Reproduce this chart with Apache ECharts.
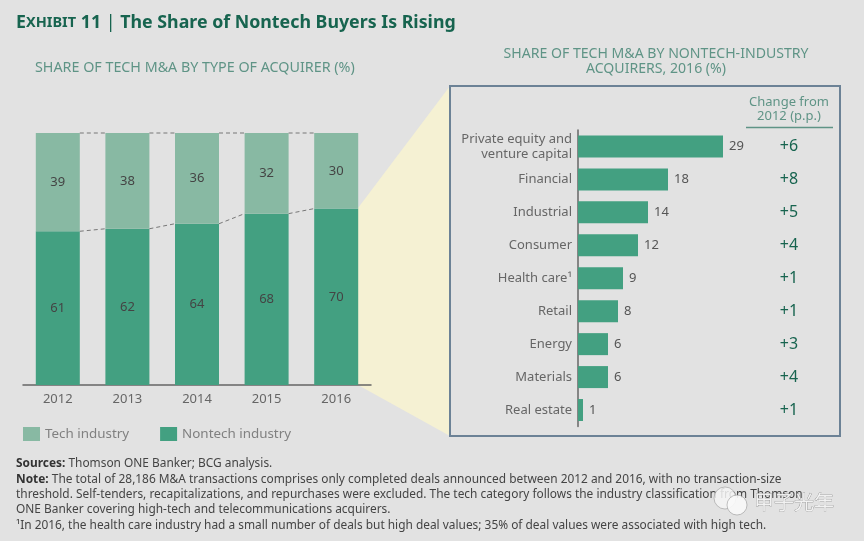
<!DOCTYPE html>
<html lang="en">
<head>
<meta charset="UTF-8">
<title>Exhibit 11</title>
<script src="https://cdn.jsdelivr.net/npm/echarts@6/dist/echarts.min.js"></script>
<style>
  html, body { margin: 0; padding: 0; background: #e2e2e2; }
  #main { width: 864px; height: 541px; }
</style>
</head>
<body>
<div id="main"></div>
<script>
var years = ['2012', '2013', '2014', '2015', '2016'];
var techShare = [39, 38, 36, 32, 30];
var nontechShare = [61, 62, 64, 68, 70];

var industries = ['Private equity and\nventure capital', 'Financial', 'Industrial', 'Consumer', 'Health care\u00b9', 'Retail', 'Energy', 'Materials', 'Real estate'];
var industryShare = [29, 18, 14, 12, 9, 8, 6, 6, 1];
var changes = ['+6', '+8', '+5', '+4', '+1', '+1', '+3', '+4', '+1'];

var footLines = [
    '{b|Sources:} Thomson ONE Banker; BCG analysis.',
    '{b|Note:} The total of 28,186 M&A transactions comprises only completed deals announced between 2012 and 2016, with no transaction-size',
    'threshold. Self-tenders, recapitalizations, and repurchases were excluded. The tech category follows the industry classification from Thomson',
    'ONE Banker covering high-tech and telecommunications acquirers.',
    '\u00b9In 2016, the health care industry had a small number of deals but high deal values; 35% of deal values were associated with high tech.'
];
var footTops = [453, 469, 484, 499, 515];

var FONT = '"Noto Sans", sans-serif';
var TECH = '#88b9a3', NONTECH = '#43a081', GREEN = '#17644f', SUB = '#5f9486', GREY = '#666';
var BAR_W = 44;

// dashed connectors between neighbouring bars
function connectors(params, api) {
    var i = api.value(0), half = BAR_W / 2, kids = [];
    [[api.value(1), api.value(2)], [api.value(3), api.value(4)]].forEach(function (p) {
        var a = api.coord([i, p[0]]), b = api.coord([i + 1, p[1]]);
        kids.push({
            type: 'line',
            shape: { x1: a[0] + half, y1: a[1], x2: b[0] - half, y2: b[1] },
            style: { stroke: '#777', lineWidth: 1, lineDash: [4, 3], fill: null }
        });
    });
    return { type: 'group', children: kids };
}
var links = [];
for (var i = 0; i < years.length - 1; i++) {
    links.push([i, nontechShare[i], nontechShare[i + 1],
        nontechShare[i] + techShare[i], nontechShare[i + 1] + techShare[i + 1]]);
}

var titles = [
    {
        left: 11, top: 9,
        text: '{a|E}{c|XHIBIT} {a|11} {s||} {a|The Share of Nontech Buyers Is Rising}',
        textStyle: { rich: {
            a: { fontFamily: FONT, fontSize: 17.8, fontWeight: 'bold', color: GREEN },
            c: { fontFamily: FONT, fontSize: 14.5, fontWeight: 'bold', color: GREEN },
            s: { fontFamily: FONT, fontSize: 17.8, fontWeight: 'normal', color: GREEN }
        } }
    },
    {
        left: 30, top: 56, text: 'SHARE OF TECH M&A BY TYPE OF ACQUIRER (%)',
        textStyle: { fontFamily: FONT, fontSize: 14.3, fontWeight: 'normal', color: SUB }
    },
    {
        left: 651, top: 41, textAlign: 'center', text: 'SHARE OF TECH M&A BY NONTECH-INDUSTRY\nACQUIRERS, 2016 (%)',
        textStyle: { fontFamily: FONT, fontSize: 14.1, fontWeight: 'normal', color: SUB, lineHeight: 15, align: 'center' }
    },
    {
        left: 784, top: 90, textAlign: 'center', text: 'Change from\n2012 (p.p.)',
        textStyle: { fontFamily: FONT, fontSize: 13, fontWeight: 'normal', color: SUB, lineHeight: 14.5, align: 'center' }
    }
];
footLines.forEach(function (line, k) {
    titles.push({
        left: 11, top: footTops[k], text: line,
        textStyle: {
            fontFamily: FONT, fontSize: 11.9, fontWeight: 'normal', color: '#444',
            rich: { b: { fontFamily: FONT, fontSize: 11.9, fontWeight: 'bold', color: '#333' } }
        }
    });
});

var chart = echarts.init(document.getElementById('main'));
chart.setOption({
    animation: false,
    backgroundColor: '#e2e2e2',
    textStyle: { fontFamily: FONT },
    title: titles,
    legend: {
        left: 18, top: 422, itemWidth: 17, itemHeight: 14, itemGap: 31,
        icon: 'rect', data: ['Tech industry', 'Nontech industry'],
        textStyle: { fontFamily: FONT, fontSize: 13.4, color: '#808080' }
    },
    grid: [
        { left: 23, top: 133, width: 348, height: 252 },
        { left: 578, top: 130, width: 200, height: 296.5 }
    ],
    xAxis: [
        {
            type: 'category', gridIndex: 0, data: years,
            axisLine: { lineStyle: { color: '#666', width: 1.5 } },
            axisTick: { show: false },
            axisLabel: { fontFamily: FONT, fontSize: 13, color: GREY, margin: 8 }
        },
        { type: 'value', gridIndex: 1, min: 0, max: 40, show: false }
    ],
    yAxis: [
        { type: 'value', gridIndex: 0, min: 0, max: 100, show: false },
        {
            type: 'category', gridIndex: 1, inverse: true, data: industries,
            axisLine: { lineStyle: { color: '#666', width: 1.5 } },
            axisTick: { show: false },
            axisLabel: { fontFamily: FONT, fontSize: 13, color: GREY, margin: 6, align: 'right', lineHeight: 15 }
        },
        {
            type: 'category', gridIndex: 1, inverse: true, position: 'right', data: changes,
            axisLine: { show: false }, axisTick: { show: false },
            axisLabel: { fontFamily: FONT, fontSize: 16, color: GREEN, margin: 11, align: 'center' }
        }
    ],
    series: [
        {
            name: 'Nontech industry', type: 'bar', stack: 'share', xAxisIndex: 0, yAxisIndex: 0,
            barWidth: BAR_W, data: nontechShare, itemStyle: { color: NONTECH },
            label: { show: true, position: 'inside', fontFamily: FONT, fontSize: 13, color: '#444' }
        },
        {
            name: 'Tech industry', type: 'bar', stack: 'share', xAxisIndex: 0, yAxisIndex: 0,
            barWidth: BAR_W, data: techShare, itemStyle: { color: TECH },
            label: { show: true, position: 'inside', fontFamily: FONT, fontSize: 13, color: '#444' }
        },
        {
            type: 'custom', xAxisIndex: 0, yAxisIndex: 0, data: links, renderItem: connectors,
            encode: { x: 0, y: 1 }, silent: true, z: 3
        },
        {
            name: 'Share 2016', type: 'bar', xAxisIndex: 1, yAxisIndex: 1,
            barWidth: 22, data: industryShare, itemStyle: { color: NONTECH },
            label: { show: true, position: 'right', distance: 6, fontFamily: FONT, fontSize: 13, color: '#555' }
        }
    ],
    graphic: [
        // callout wedge from the 2016 bar to the panel, kept behind the axes
        {
            type: 'polygon', z: -2, silent: true,
            shape: { points: [[358, 208], [450, 86], [450, 436], [358, 385]] },
            style: { fill: '#f5f1d3' }
        },
        {
            type: 'rect', z: -1, silent: true,
            shape: { x: 450, y: 86, width: 390, height: 350 },
            style: { fill: '#e2e2e2', stroke: '#6c8296', lineWidth: 2 }
        },
        {
            type: 'line', z: 4, silent: true,
            shape: { x1: 746, y1: 127.5, x2: 833, y2: 127.5 },
            style: { stroke: '#5f9486', lineWidth: 1.5 }
        },
        // watermark
        {
            type: 'circle', z: 20, silent: true,
            shape: { cx: 725, cy: 498, r: 11 },
            style: { fill: 'rgba(245,245,245,0.85)', stroke: '#888', lineWidth: 0.5 }
        },
        {
            type: 'circle', z: 20, silent: true,
            shape: { cx: 737, cy: 505, r: 10 },
            style: { fill: 'rgba(250,250,250,0.9)', stroke: '#888', lineWidth: 0.5 }
        },
        {
            type: 'text', z: 20, silent: true, x: 754, y: 492,
            style: { text: '甲子光年', fontFamily: '"Noto Sans CJK SC"', fontSize: 20, fill: 'rgba(245,245,245,0.9)', stroke: '#777', lineWidth: 0.5 }
        }
    ]
});
</script>
</body>
</html>
